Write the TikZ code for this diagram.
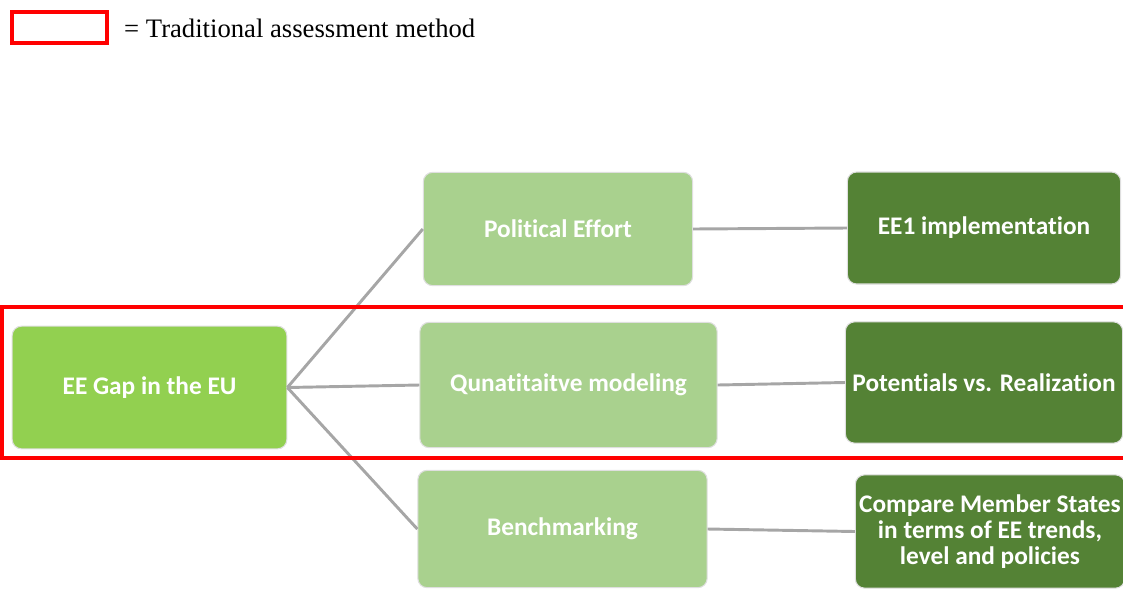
\documentclass[tikz,border=0pt]{standalone}
\usepackage{fontspec}
\setmainfont{Carlito}[RawFeature=-liga]
\newfontfamily\legendfont{Liberation Serif}
\usetikzlibrary{positioning}

\definecolor{rootgreen}{HTML}{92D050}
\definecolor{midgreen}{HTML}{A9D18E}
\definecolor{darkgreen}{HTML}{548235}
\definecolor{linkgray}{HTML}{A6A6A6}
\definecolor{markred}{HTML}{FF0000}

\begin{document}
\begin{tikzpicture}[x=0.75pt, y=-0.75pt,
    every node/.style = {shape=rectangle, rounded corners=7pt, draw=gray!25, line width=0.8pt, align=center, text=white, font=\bfseries\fontsize{19}{19.5}\selectfont, inner sep=2pt},
    rootbox/.style = {fill=rootgreen},
    midbox/.style = {fill=midgreen},
    leafbox/.style = {fill=darkgreen},
    link/.style = {draw=linkgray, line width=2.2pt},
    marker/.style = {draw=markred, line width=3pt}]
    \useasboundingbox (0,0) rectangle (1123,590);
                % legend
                \draw[marker] (12,12) rectangle (107,43);
                \node[draw=none, text=black, rounded corners=0pt, anchor=west, font=\legendfont\fontsize{20}{24}\selectfont] (legend) at (121,28) {= Traditional assessment method};
                % tree
                \node[rootbox, minimum width=206pt, minimum height=92pt] (gap) at (149.5,387.5) {EE Gap in the EU};
                \node[midbox, minimum width=202pt, minimum height=85pt] (political) at (558,229) {Political Effort};
                \node[midbox, minimum width=223pt, minimum height=94pt] (quant) at (568.5,385) {Qunatitaitve modeling};
                \node[midbox, minimum width=217pt, minimum height=88pt] (bench) at (562.5,529) {Benchmarking};
                \node[leafbox, minimum width=205pt, minimum height=84pt] (ee1) at (984,228) {EE1 implementation};
                \node[leafbox, minimum width=208pt, minimum height=91pt] (potentials) at (984,382.5) {Potentials vs. Realization};
                \node[leafbox, minimum width=202pt, minimum height=85pt] (compare) at (990,531.5) {Compare Member States\\in terms of EE trends,\\level and policies};
                \draw[link] (gap.east) -- (political.west);
                \draw[link] (gap.east) -- (quant.west);
                \draw[link] (gap.east) -- (bench.west);
                \draw[link] (political.east) -- (ee1.west);
                \draw[link] (quant.east) -- (potentials.west);
                \draw[link] (bench.east) -- (compare.west);
                % traditional method frame
                \draw[marker] (2,307) rectangle (1130,458);
            \end{tikzpicture}
\end{document}
